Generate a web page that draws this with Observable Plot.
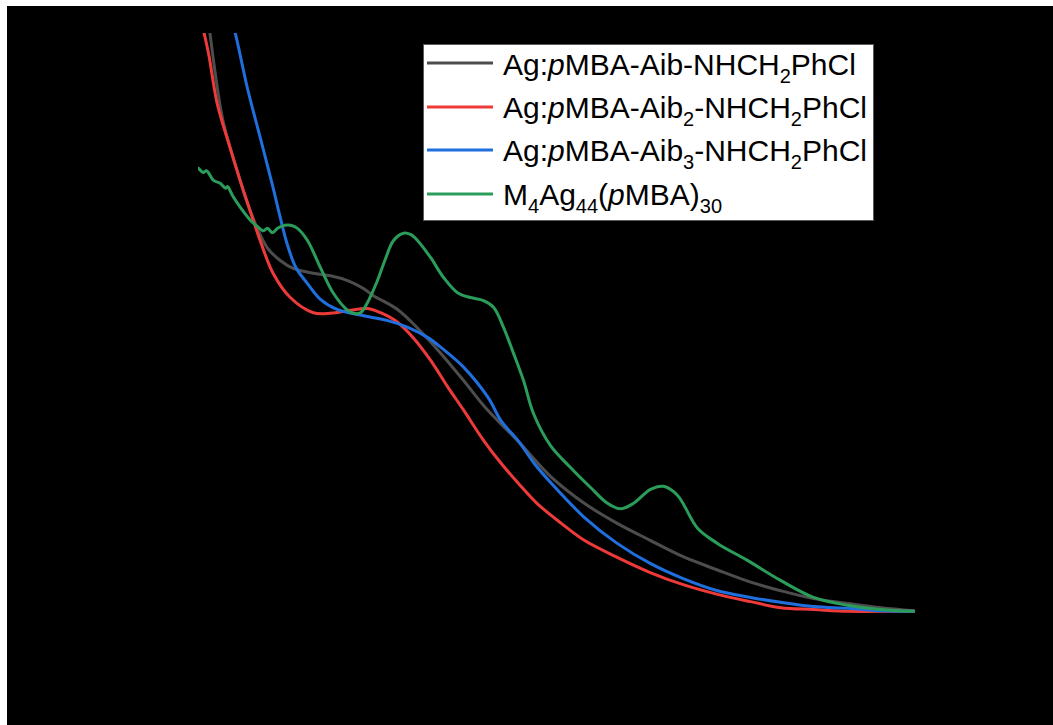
<!DOCTYPE html>
<html>
<head>
<meta charset="utf-8">
<script src="https://cdn.jsdelivr.net/npm/d3@7"></script>
<script src="https://cdn.jsdelivr.net/npm/@observablehq/plot@0.6"></script>
<style>
  html, body { margin: 0; padding: 0; background: #ffffff; overflow: hidden; }
  #chart { padding: 6px 0 0 7px; line-height: 0; }
  #chart svg { display: block; }
</style>
</head>
<body>
<div id="chart"></div>
<script>
// UV-vis absorption spectra (wavelength in nm, absorbance normalised to the frame height)
const wlAib1 = [357, 358, 367, 377, 386, 398, 407, 416, 430, 442, 454, 465, 472, 489, 503, 519, 535, 550, 573, 596, 619, 642, 665, 688, 711, 734, 756, 779, 803, 826, 849];
const absAib1 = [1.02, 1.0, 0.857, 0.774, 0.708, 0.647, 0.626, 0.613, 0.605, 0.601, 0.593, 0.58, 0.568, 0.545, 0.514, 0.473, 0.428, 0.384, 0.328, 0.269, 0.226, 0.193, 0.165, 0.138, 0.117, 0.097, 0.082, 0.069, 0.061, 0.054, 0.049];

const wlAib2 = [352, 357, 363, 372, 379, 386, 393, 402, 414, 430, 442, 456, 468, 477, 489, 500, 512, 524, 535, 549, 561, 573, 586, 603, 619, 642, 665, 688, 712, 735, 756, 779, 803, 826, 849];
const absAib2 = [1.02, 0.967, 0.885, 0.812, 0.758, 0.708, 0.659, 0.605, 0.565, 0.54, 0.539, 0.544, 0.547, 0.54, 0.524, 0.498, 0.461, 0.417, 0.379, 0.329, 0.292, 0.259, 0.226, 0.193, 0.165, 0.137, 0.112, 0.092, 0.076, 0.064, 0.054, 0.051, 0.048, 0.048, 0.048];

const wlAib3 = [374, 376, 384, 393, 402, 407, 412, 418, 426, 435, 447, 465, 482, 496, 510, 519, 535, 552, 561, 573, 584, 596, 619, 642, 665, 688, 712, 735, 756, 779, 803, 826, 849];
const absAib3 = [1.013, 0.997, 0.911, 0.829, 0.746, 0.697, 0.652, 0.614, 0.588, 0.562, 0.545, 0.535, 0.527, 0.516, 0.499, 0.483, 0.45, 0.4, 0.362, 0.329, 0.292, 0.259, 0.203, 0.16, 0.127, 0.102, 0.082, 0.071, 0.063, 0.056, 0.053, 0.049, 0.048];

const wlAg44 = [350, 353.5, 355.6, 360.5, 365.3, 368.8, 370.2, 373.7, 379.3, 386.3, 391.1, 395.3, 398.1, 401.6, 405.1, 410, 414.2, 419, 426, 435.1, 444.1, 453.9, 458.1, 463, 467.9, 474.8, 480.4, 486, 493, 497.8, 502.7, 511.8, 520.9, 530.6, 539.7, 548.7, 555.7, 562.7, 569.7, 576.7, 583.6, 595.5, 609.4, 623.4, 635.2, 644.3, 653.4, 665.2, 674.3, 684.1, 698, 711.9, 732.8, 755.9, 778.9, 802.6, 825.6, 848.6];
const absAg44 = [0.778, 0.771, 0.774, 0.758, 0.753, 0.745, 0.748, 0.733, 0.713, 0.692, 0.682, 0.675, 0.679, 0.672, 0.679, 0.684, 0.684, 0.679, 0.659, 0.614, 0.572, 0.544, 0.539, 0.54, 0.557, 0.593, 0.629, 0.659, 0.671, 0.669, 0.659, 0.631, 0.598, 0.573, 0.565, 0.56, 0.549, 0.516, 0.473, 0.428, 0.374, 0.321, 0.285, 0.252, 0.226, 0.217, 0.226, 0.249, 0.254, 0.239, 0.185, 0.16, 0.132, 0.099, 0.071, 0.058, 0.051, 0.048];

const seriesColors = ["#4d4d4d", "#ef3a3a", "#1f6fde", "#2b9d5b"];

const toRows = (wl, abs) => wl.map((w, i) => ({wl: w, a: abs[i]}));
const spectra = [
  toRows(wlAib1, absAib1),
  toRows(wlAib2, absAib2),
  toRows(wlAib3, absAib3),
  toRows(wlAg44, absAg44)
];

const W = 1046, H = 719;

const plot = Plot.plot({
  width: W,
  height: H,
  marginLeft: 191,
  marginRight: 138,
  marginTop: 27,
  marginBottom: 85,
  style: {background: "#000000"},
  x: {domain: [350, 850], axis: null},
  y: {domain: [0, 1], axis: null},
  marks: spectra.map((rows, i) =>
    Plot.line(rows, {x: "wl", y: "a", stroke: seriesColors[i], strokeWidth: 3, curve: "catmull-rom", clip: true})
  )
});

document.getElementById("chart").appendChild(plot);

// Legend box drawn inside the frame, with chemical sub-scripts
const svg = d3.select(plot);
const lg = svg.append("g")
  .attr("font-family", "'Liberation Sans', Arial, Helvetica, sans-serif")
  .attr("font-size", 30)
  .attr("text-anchor", "start")
  .attr("fill", "#000");
lg.append("rect").attr("x", 416.5).attr("y", 38.5).attr("width", 450).attr("height", 176)
  .attr("fill", "#ffffff").attr("stroke", "#5a5a5a").attr("stroke-width", 1);

const legendRows = [
  [["Ag:"], ["p", "i"], ["MBA-Aib-NHCH"], ["2", "s"], ["PhCl"]],
  [["Ag:"], ["p", "i"], ["MBA-Aib"], ["2", "s"], ["-NHCH"], ["2", "s"], ["PhCl"]],
  [["Ag:"], ["p", "i"], ["MBA-Aib"], ["3", "s"], ["-NHCH"], ["2", "s"], ["PhCl"]],
  [["M"], ["4", "s"], ["Ag"], ["44", "s"], ["("], ["p", "i"], ["MBA)"], ["30", "s"]]
];
const lineY = [57, 101, 144, 188];
const textY = [69, 112, 155, 199];

legendRows.forEach((parts, i) => {
  lg.append("line").attr("x1", 420).attr("x2", 486).attr("y1", lineY[i]).attr("y2", lineY[i])
    .attr("stroke", seriesColors[i]).attr("stroke-width", 3);
  const t = lg.append("text").attr("x", 496).attr("y", textY[i]);
  let shifted = false;
  parts.forEach(([s, kind]) => {
    const ts = t.append("tspan").text(s);
    if (kind === "s") {
      ts.attr("font-size", 20).attr("dy", shifted ? 0 : 8);
      shifted = true;
    } else {
      if (shifted) ts.attr("dy", -8);
      shifted = false;
      if (kind === "i") ts.attr("font-style", "italic");
    }
  });
});
</script>
</body>
</html>
